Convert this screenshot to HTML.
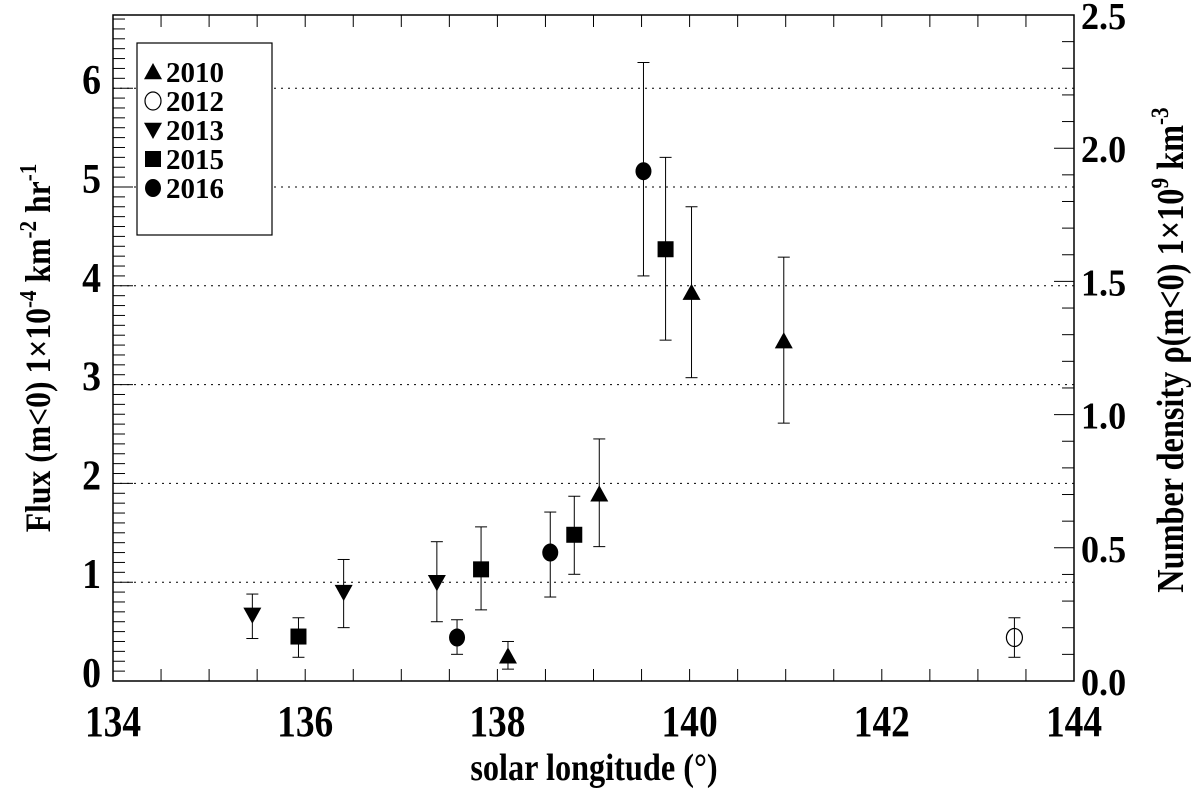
<!DOCTYPE html>
<html><head><meta charset="utf-8"><style>
body{margin:0;background:#fff;}
svg text{font-family:"Liberation Serif",serif;font-weight:bold;fill:#000;}
</style></head><body>
<svg id="chart" width="1200" height="801" xmlns="http://www.w3.org/2000/svg">
<g id="grid"></g>
<g id="axes"></g>
<g id="marks"></g>
<text font-size="38" text-anchor="middle" transform="translate(594 780) scale(0.85 1)">solar longitude (°)</text>
<text font-size="36" text-anchor="middle" transform="translate(50 348) rotate(-90) scale(0.88 1)">Flux (m&lt;0)  1×10<tspan dy="-14" font-size="24">-4</tspan><tspan dy="14"> km</tspan><tspan dy="-14" font-size="24">-2</tspan><tspan dy="14"> hr</tspan><tspan dy="-14" font-size="24">-1</tspan></text>
<text font-size="38" text-anchor="middle" transform="translate(1183 350) rotate(-90) scale(0.85 1)">Number density ρ(m&lt;0)  1×10<tspan dy="-15" font-size="25">9</tspan><tspan dy="15"> km</tspan><tspan dy="-15" font-size="25">-3</tspan></text>
<g id="legend">
<rect x="137" y="43" width="135" height="192" fill="#fff" stroke="#000" stroke-width="1.2"/>
</g>
</svg>
<script>
const years=["2010","2012","2013","2015","2016"];
const sym={"2010":"tri","2012":"ocircle","2013":"dtri","2015":"square","2016":"circle"};
const ptYear=["2013","2013","2013","2015","2015","2015","2015","2016","2016","2016","2010","2010","2010","2010","2012"];
const ptLon=[135.45,136.4,137.37,135.93,137.83,138.8,139.75,137.58,138.55,139.52,138.11,139.06,140.02,140.98,143.38];
const ptFlux=[0.67,0.9,1.0,0.45,1.13,1.48,4.37,0.44,1.3,5.16,0.25,1.89,3.93,3.44,0.44];
const errLo=[0.43,0.54,0.60,0.24,0.72,1.08,3.45,0.27,0.85,4.10,0.12,1.36,3.07,2.61,0.24];
const errHi=[0.88,1.23,1.41,0.64,1.56,1.87,5.30,0.62,1.71,6.26,0.40,2.45,4.80,4.29,0.64];
const xTicks=[134,136,138,140,142,144];
const yTicks=[0,1,2,3,4,5,6];
const y2Ticks=["0.0","0.5","1.0","1.5","2.0","2.5"];
const NS="http://www.w3.org/2000/svg";
const L=113,R=1074,T=15,B=681;
const xS=v=>L+(v-134)*(R-L)/10;
const yS=v=>B-v*98.8;
const y2S=v=>B-v*(B-T)/2.5;
function mk(tag,attrs,parent,name){const e=document.createElementNS(NS,tag);for(const k in attrs)e.setAttribute(k,attrs[k]);parent.appendChild(e);


return e;}
const grid=document.getElementById('grid'),axes=document.getElementById('axes'),marks=document.getElementById('marks'),leg=document.getElementById('legend');
yTicks.forEach(v=>{if(v>0)mk('line',{x1:L,x2:R,y1:yS(v),y2:yS(v),stroke:'#000','stroke-width':1,'stroke-dasharray':'2,5'},grid,'gridline-'+v);});
mk('rect',{x:L,y:T,width:R-L,height:B-T,fill:'none',stroke:'#000','stroke-width':1.5},axes,'plot-frame');
for(let v=134;v<=144.001;v+=0.5){const x=xS(v);mk('line',{x1:x,x2:x,y1:B,y2:B-12,stroke:'#000'},axes,'x-tick');mk('line',{x1:x,x2:x,y1:T,y2:T+12,stroke:'#000'},axes,'x-tick-top');}
xTicks.forEach(v=>{const t=mk('text',{'font-size':44,'text-anchor':'middle',transform:`translate(${xS(v)} 736) scale(0.85 1)`},axes,'x-tick-label');t.textContent=v;});
for(let i=0;i<=67;i++){const v=i/10,y=yS(v);const len=(i%10==0)?20:12;mk('line',{x1:L,x2:L+len,y1:y,y2:y,stroke:'#000'},axes,'y-tick');}
yTicks.forEach(v=>{const t=mk('text',{'font-size':42,'text-anchor':'end',transform:`translate(101 ${yS(v)+6}) scale(0.9 1)`},axes,'y-tick-label');t.textContent=v;});
for(let i=0;i<=25;i++){const v=i/10,y=y2S(v);const len=(i%5==0)?20:12;mk('line',{x1:R,x2:R-len,y1:y,y2:y,stroke:'#000'},axes,'y2-tick');}
y2Ticks.forEach(s=>{const t=mk('text',{'font-size':38,transform:`translate(1081 ${y2S(+s)+14}) scale(0.95 1)`},axes,'y2-tick-label');t.textContent=s;});
function symbol(type,x,y,p,name){const s=9;
if(type=='tri')mk('polygon',{points:`${x},${y-s} ${x-s},${y+s*0.8} ${x+s},${y+s*0.8}`,fill:'#000'},p,name);
else if(type=='dtri')mk('polygon',{points:`${x},${y+s} ${x-s},${y-s*0.8} ${x+s},${y-s*0.8}`,fill:'#000'},p,name);
else if(type=='square')mk('rect',{x:x-8,y:y-8,width:16,height:16,fill:'#000'},p,name);
else if(type=='circle')mk('ellipse',{cx:x,cy:y,rx:8,ry:9,fill:'#000'},p,name);
else mk('ellipse',{cx:x,cy:y,rx:8,ry:9,fill:'none',stroke:'#000','stroke-width':1.2},p,name);}
ptLon.forEach((lon,i)=>{const x=xS(lon);
mk('line',{x1:x,x2:x,y1:yS(errLo[i]),y2:yS(errHi[i]),stroke:'#000'},marks,'error-bar');
[errLo[i],errHi[i]].forEach(v=>mk('line',{x1:x-6,x2:x+6,y1:yS(v),y2:yS(v),stroke:'#000'},marks,'error-cap'));
symbol(sym[ptYear[i]],x,yS(ptFlux[i]),marks,'point-'+ptYear[i]);});
years.forEach((yr,i)=>{const y=72+i*29;symbol(sym[yr],153,y,leg,'legend-symbol-'+yr);const t=mk('text',{x:166,y:y+10,'font-size':29},leg,'legend-entry-'+yr);t.textContent=yr;});
</script>
</body></html>
